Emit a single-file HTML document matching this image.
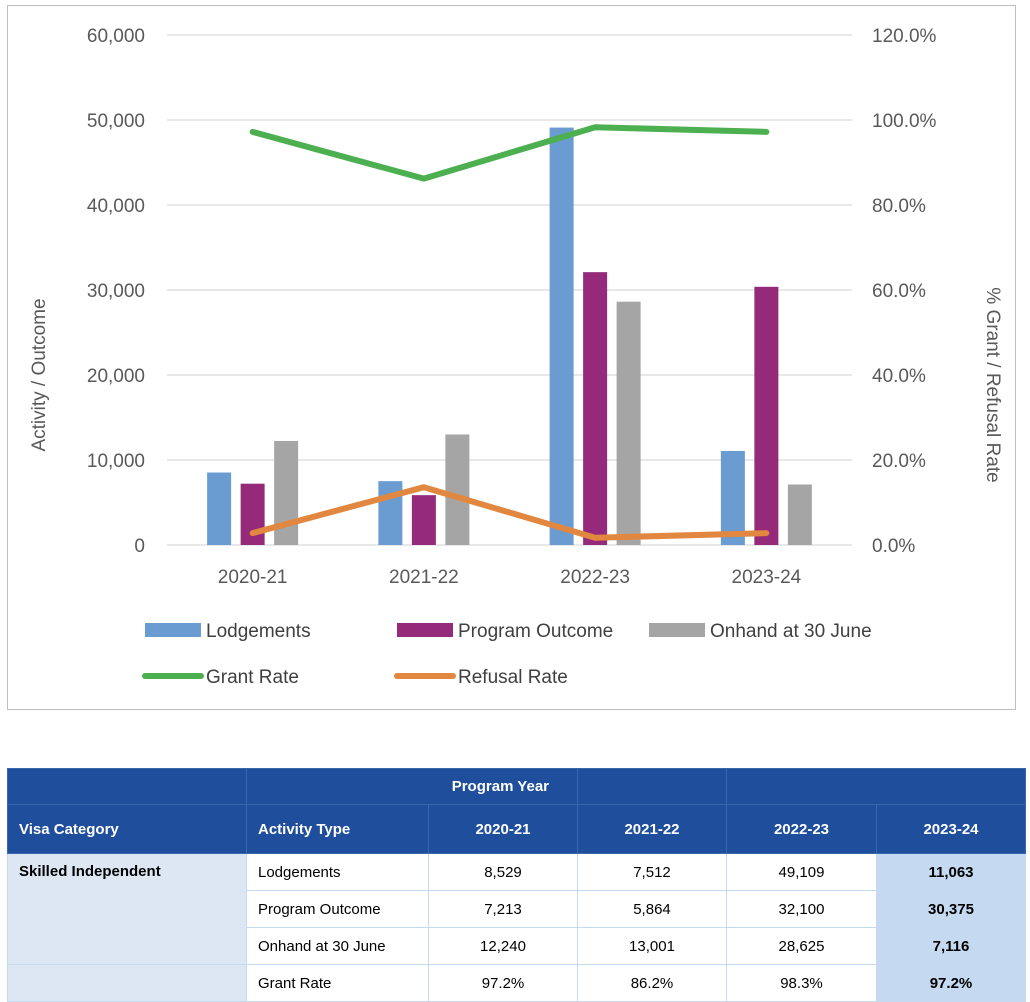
<!DOCTYPE html>
<html><head><meta charset="utf-8"><style>
body{margin:0;width:1030px;height:994px;overflow:hidden;background:#fff;font-family:"Liberation Sans",sans-serif;position:relative}
#chartbox{position:absolute;left:7px;top:5px;width:1009px;height:705px;border:1px solid #bfbfbf;box-sizing:border-box}
table{position:absolute;left:7px;top:768px;border-collapse:collapse;font-size:15px;table-layout:fixed}
td{height:37px;border:1px solid #c5d9f1;padding:0 11px;box-sizing:border-box}
.h{background:#1f4e9c;color:#fff;font-weight:bold;border-color:#3a66ad}
.c{text-align:center}
.l{background:#dde7f3;font-weight:bold;vertical-align:top;padding-top:9px}
.b{background:#c5d9f1;font-weight:bold;text-align:center}
</style></head><body>
<div id="chartbox"></div>
<svg id="chart" width="1030" height="720" style="position:absolute;left:0;top:0"></svg>
<table>
<colgroup><col style="width:239px"><col style="width:182px"><col style="width:149px"><col style="width:149px"><col style="width:150px"><col style="width:149px"></colgroup>
<tr><td class="h" style="height:36px"></td><td class="h" colspan="2" style="text-align:right;padding-right:28px;height:36px">Program Year</td><td class="h" style="height:36px"></td><td class="h" colspan="2" style="height:36px"></td></tr>
<tr><td class="h" style="height:49px">Visa Category</td><td class="h" style="height:49px">Activity Type</td><td class="h c">2020-21</td><td class="h c">2021-22</td><td class="h c">2022-23</td><td class="h c">2023-24</td></tr>
<tr><td class="l" rowspan="3">Skilled Independent</td><td>Lodgements</td><td class="c">8,529</td><td class="c">7,512</td><td class="c">49,109</td><td class="b">11,063</td></tr>
<tr><td>Program Outcome</td><td class="c">7,213</td><td class="c">5,864</td><td class="c">32,100</td><td class="b">30,375</td></tr>
<tr><td>Onhand at 30 June</td><td class="c">12,240</td><td class="c">13,001</td><td class="c">28,625</td><td class="b">7,116</td></tr>
<tr><td class="l" style="font-weight:normal"></td><td>Grant Rate</td><td class="c">97.2%</td><td class="c">86.2%</td><td class="c">98.3%</td><td class="b">97.2%</td></tr>
</table>
<script>
const categories=["2020-21","2021-22","2022-23","2023-24"];
const lodgements=[8529,7512,49109,11063];
const programOutcome=[7213,5864,32100,30375];
const onhand=[12240,13001,28625,7116];
const grantRate=[97.2,86.2,98.3,97.2];
const refusalRate=[2.8,13.6,1.7,2.8];
const leftTicks=[0,10000,20000,30000,40000,50000,60000];
const rightTicks=[0,20,40,60,80,100,120];
const NS="http://www.w3.org/2000/svg";
const svg=document.getElementById('chart');
const x0=167,x1=852,yb=545,yt=35;
const yL=v=>yb-(v/60000)*(yb-yt);
const yR=v=>yb-(v/120)*(yb-yt);
const band=(x1-x0)/categories.length;
const xc=i=>x0+band*(i+0.5);
function mk(t,a,txt){const e=document.createElementNS(NS,t);for(const k in a)e.setAttribute(k,a[k]);if(txt!==undefined)e.textContent=txt;svg.appendChild(e);return e;}
leftTicks.forEach((v,i)=>{
 const g=mk('line',{x1:x0,x2:x1,y1:yL(v),y2:yL(v),stroke:'#d9d9d9','stroke-width':1.3});
 
 
 const t=mk('text',{x:145,y:yL(v)+7,'text-anchor':'end','font-size':19,fill:'#595959','font-family':'Liberation Sans'},v.toLocaleString('en-US'));
 
 
});
rightTicks.forEach(v=>{
 const t=mk('text',{x:872,y:yR(v)+7,'font-size':19,fill:'#595959','font-family':'Liberation Sans'},v.toFixed(1)+'%');
 
 
});
const series=[[lodgements,'#6a9bd1','lodgements'],[programOutcome,'#952a7a','program-outcome'],[onhand,'#a5a5a5','onhand']];
const bw=24,gap=9.5;
categories.forEach((c,i)=>{
 series.forEach((s,j)=>{
  const x=xc(i)+(j-1)*(bw+gap)-bw/2;
  const r=mk('rect',{x:x,y:yL(s[0][i]),width:bw,height:yb-yL(s[0][i]),fill:s[1]});
  
  
 });
 const t=mk('text',{x:xc(i),y:583,'text-anchor':'middle','font-size':19,fill:'#595959','font-family':'Liberation Sans'},c);
 
 
});
function line(arr,col,name){
 const p=mk('polyline',{points:arr.map((v,i)=>xc(i)+','+yR(v)).join(' '),fill:'none',stroke:col,'stroke-width':6,'stroke-linejoin':'round','stroke-linecap':'round'});
 
 
}
line(grantRate,'#4caf50','grant-rate-line');
line(refusalRate,'#e2873f','refusal-rate-line');
const ly=mk('text',{transform:'translate(45,375) rotate(-90)','text-anchor':'middle','font-size':19,fill:'#595959','font-family':'Liberation Sans'},'Activity / Outcome');


const ry=mk('text',{transform:'translate(987,385) rotate(90)','text-anchor':'middle','font-size':19,fill:'#595959','font-family':'Liberation Sans'},'% Grant / Refusal Rate');


const legend=[['Lodgements','#6a9bd1','bar',145,630],['Program Outcome','#952a7a','bar',397,630],['Onhand at 30 June','#a5a5a5','bar',649,630],['Grant Rate','#4caf50','line',145,676],['Refusal Rate','#e2873f','line',397,676]];
legend.forEach(l=>{
 if(l[2]==='bar'){const r=mk('rect',{x:l[3],y:l[4]-7,width:56,height:14,fill:l[1]});}
 else{const r=mk('line',{x1:l[3],x2:l[3]+56,y1:l[4],y2:l[4],stroke:l[1],'stroke-width':6,'stroke-linecap':'round'});}
 const t=mk('text',{x:l[3]+61,y:l[4]+7,'font-size':19,fill:'#404040','font-family':'Liberation Sans'},l[0]);
 
 
});
</script>
</body></html>
